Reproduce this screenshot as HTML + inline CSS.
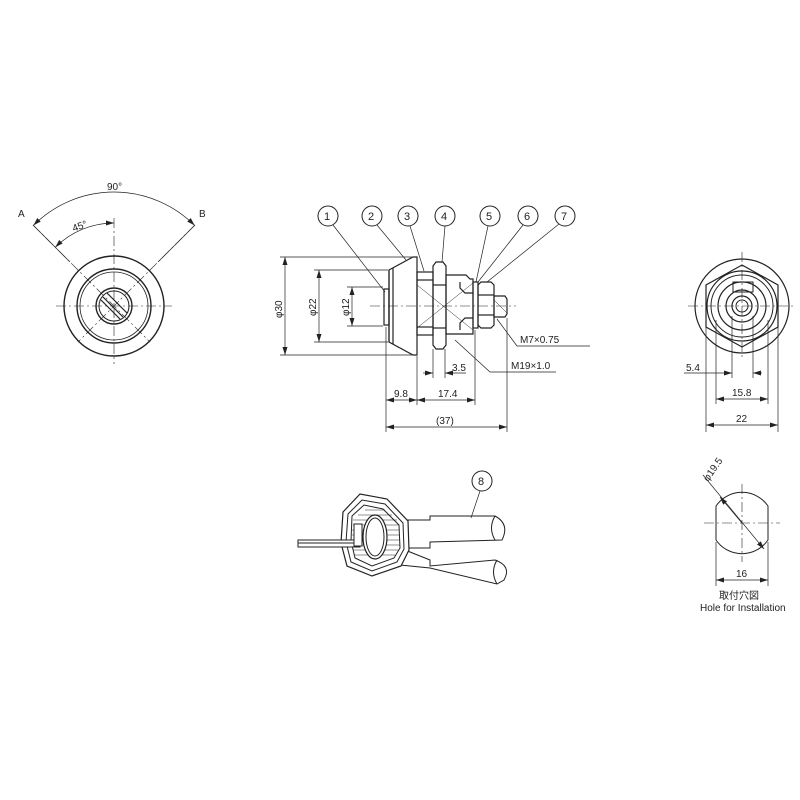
<!DOCTYPE html>
<html><head><meta charset="utf-8"><style>
html,body{margin:0;padding:0;background:#fff;}
svg{display:block;font-family:"Liberation Sans","Noto Sans CJK JP",sans-serif;}
text{font-size:10px;fill:#222;}
</style></head><body>
<svg width="800" height="800" viewBox="0 0 800 800" xmlns="http://www.w3.org/2000/svg">
<defs>
<marker id="ar" markerWidth="8" markerHeight="6" refX="8" refY="3" orient="auto-start-reverse" markerUnits="userSpaceOnUse"><path d="M0,0.5 L8,3 L0,5.5 Z" fill="#222"/></marker>
</defs>
<g fill="none" stroke="#222" stroke-width="1">
<!-- LEFT VIEW -->
<circle cx="114" cy="306" r="50" stroke-width="1.4"/>
<circle cx="114" cy="306" r="37" stroke-width="1.4"/>
<circle cx="114" cy="306" r="34" stroke-width="0.8"/>
<circle cx="114" cy="306" r="18" stroke-width="1.4"/>
<circle cx="114" cy="306" r="15"/>
<line x1="103" y1="297" x2="123" y2="317" stroke-width="1.2"/>
<line x1="107" y1="293" x2="127" y2="313" stroke-width="1.2"/>
<line x1="101" y1="300" x2="120" y2="319" stroke-width="1.2"/>
<g stroke-width="0.6" stroke-dasharray="10,3,2,3">
<line x1="56" y1="306" x2="172" y2="306"/>
<line x1="114" y1="218" x2="114" y2="364"/>
<line x1="33" y1="225" x2="150" y2="342"/>
<line x1="195" y1="225" x2="78" y2="342"/>
</g>
<line x1="33" y1="225" x2="70" y2="262" stroke-width="0.7"/>
<line x1="195" y1="225" x2="158" y2="262" stroke-width="0.7"/>
<path d="M33.4,225.4 A114,114 0 0 1 194.6,225.4" stroke-width="0.7" marker-start="url(#ar)" marker-end="url(#ar)"/>
<path d="M55.3,247.3 A83,83 0 0 1 114,223" stroke-width="0.7" marker-start="url(#ar)" marker-end="url(#ar)"/>

<!-- CENTER VIEW -->
<g stroke-width="1.2">
<path d="M389,270 L413,257 L417,257 L417,355 L413,355 L389,342 Z"/>
<line x1="393" y1="268" x2="393" y2="344"/>
<line x1="389" y1="270" x2="389" y2="342"/>
<rect x="384" y="289" width="5" height="36"/>
<rect x="417" y="272" width="16" height="63"/>
<line x1="417" y1="280" x2="433" y2="280"/>
<line x1="417" y1="327" x2="433" y2="327"/>
<path d="M433,266 L436,262 L443,262 L446,266 L446,345 L443,349 L436,349 L433,345 Z"/>
<line x1="433" y1="285" x2="446" y2="285"/>
<line x1="433" y1="328" x2="446" y2="328"/>
<path d="M446,275 L466,275 L470,279 L473,279 L473,334 L446,334 Z"/>
<path d="M460,282 L460,288 L465,293 L473,293"/>
<path d="M460,330 L460,323 L465,318 L473,318"/>
<rect x="473" y="282" width="5" height="46"/>
<path d="M478,285 L481,282 L491,282 L494,285 L494,325 L491,328 L481,328 L478,325 Z"/>
<line x1="478" y1="295" x2="494" y2="295"/>
<line x1="478" y1="315" x2="494" y2="315"/>
<path d="M494,296 L505,296 L507,299 L507,314 L505,317 L494,317 Z"/>
</g>
<line x1="417" y1="285" x2="473" y2="330" stroke-width="0.5"/>
<line x1="417" y1="328" x2="473" y2="283" stroke-width="0.5"/>
<line x1="494" y1="300" x2="507" y2="313" stroke-width="0.5"/>
<line x1="370" y1="306" x2="516" y2="306" stroke-width="0.6" stroke-dasharray="10,3,2,3"/>
<!-- dims vertical -->
<g stroke-width="0.7">
<line x1="280" y1="257" x2="412" y2="257"/><line x1="280" y1="355" x2="412" y2="355"/>
<line x1="314" y1="270" x2="388" y2="270"/><line x1="314" y1="342" x2="388" y2="342"/>
<line x1="347" y1="287" x2="383" y2="287"/><line x1="347" y1="326" x2="383" y2="326"/>
<line x1="285" y1="257" x2="285" y2="355" marker-start="url(#ar)" marker-end="url(#ar)"/>
<line x1="319" y1="270" x2="319" y2="342" marker-start="url(#ar)" marker-end="url(#ar)"/>
<line x1="352" y1="287" x2="352" y2="326" marker-start="url(#ar)" marker-end="url(#ar)"/>
<line x1="386" y1="327" x2="386" y2="432"/>
<line x1="417" y1="356" x2="417" y2="405"/>
<line x1="475" y1="330" x2="475" y2="405"/>
<line x1="507" y1="318" x2="507" y2="432"/>
<line x1="433" y1="349" x2="433" y2="378"/>
<line x1="445" y1="349" x2="445" y2="378"/>
<line x1="386" y1="400" x2="417" y2="400" marker-start="url(#ar)" marker-end="url(#ar)"/>
<line x1="417" y1="400" x2="475" y2="400" marker-start="url(#ar)" marker-end="url(#ar)"/>
<line x1="386" y1="427" x2="507" y2="427" marker-start="url(#ar)" marker-end="url(#ar)"/>
<line x1="423" y1="373" x2="433" y2="373" marker-end="url(#ar)"/>
<line x1="466" y1="373" x2="445" y2="373" marker-end="url(#ar)"/>
<polyline points="497,319 517,346 590,346"/>
<polyline points="455,340 490,372 556,372"/>
</g>
<!-- balloons -->
<g stroke-width="1">
<circle cx="328" cy="216" r="10"/><circle cx="372" cy="216" r="10"/><circle cx="408" cy="216" r="10"/>
<circle cx="445" cy="216" r="10"/><circle cx="490" cy="216" r="10"/><circle cx="528" cy="216" r="10"/><circle cx="565" cy="216" r="10"/>
</g>
<g stroke-width="0.7">
<line x1="333" y1="225" x2="385" y2="292"/>
<line x1="377" y1="225" x2="406" y2="260"/>
<line x1="410" y1="226" x2="424" y2="271"/>
<line x1="445" y1="226" x2="442" y2="262"/>
<line x1="488" y1="226" x2="476" y2="282"/>
<line x1="523" y1="225" x2="478" y2="282"/>
<line x1="559" y1="224" x2="487" y2="282"/>
</g>

<!-- RIGHT VIEW -->
<circle cx="742" cy="306" r="47" stroke-width="1.2"/>
<polygon points="742,265 778,285 778,327 742,347 706,327 706,285" stroke-width="1.2"/>
<circle cx="742" cy="306" r="35" stroke-width="1.2"/>
<circle cx="742" cy="306" r="31"/>
<circle cx="742" cy="306" r="24" stroke-width="1.2"/>
<circle cx="742" cy="306" r="16" stroke-width="1.2"/>
<circle cx="742" cy="306" r="10" stroke-width="1.2"/>
<circle cx="742" cy="306" r="6"/>
<rect x="733" y="282" width="20" height="10"/>
<g stroke-width="0.6" stroke-dasharray="10,3,2,3">
<line x1="688" y1="306" x2="796" y2="306"/>
<line x1="742" y1="252" x2="742" y2="360"/>
</g>
<g stroke-width="0.7">
<line x1="706" y1="310" x2="706" y2="432"/><line x1="778" y1="310" x2="778" y2="432"/>
<line x1="716" y1="320" x2="716" y2="404"/><line x1="768" y1="320" x2="768" y2="404"/>
<line x1="732" y1="316" x2="732" y2="378"/><line x1="753" y1="316" x2="753" y2="378"/>
<line x1="706" y1="425" x2="778" y2="425" marker-start="url(#ar)" marker-end="url(#ar)"/>
<line x1="716" y1="399" x2="768" y2="399" marker-start="url(#ar)" marker-end="url(#ar)"/>
<line x1="684" y1="373" x2="732" y2="373" marker-end="url(#ar)"/>
<line x1="762" y1="373" x2="753" y2="373" marker-end="url(#ar)"/>
</g>

<!-- HOLE -->
<path d="M716,506 A31.5,31.5 0 0 1 768,506 L768,540 A31.5,31.5 0 0 1 716,540 Z" stroke-width="1"/>
<g stroke-width="0.6" stroke-dasharray="10,3,2,3">
<line x1="704" y1="523" x2="780" y2="523"/>
<line x1="742" y1="484" x2="742" y2="562"/>
</g>
<g stroke-width="0.7">
<line x1="703" y1="475" x2="764" y2="549" marker-end="url(#ar)"/>
<line x1="742" y1="523" x2="720" y2="497" marker-end="url(#ar)"/>
<line x1="716" y1="542" x2="716" y2="586"/><line x1="768" y1="542" x2="768" y2="586"/>
<line x1="716" y1="580" x2="768" y2="580" marker-start="url(#ar)" marker-end="url(#ar)"/>
</g>

<!-- KEY -->
<g stroke-width="1">
<path d="M405,520 L430,520 L430,516 L495,516 Q510,524 502,540 L430,542 L430,548 L405,548"/>
<path d="M495,516 Q488,528 495,540"/>
<path d="M405,550 L430,560 L430,566 L495,560 Q512,566 504,580 L497,584 L430,568 L400,565"/>
<path d="M497,560 Q490,572 497,584"/>
<path d="M343,512 L360,494 L387,499 L408,521 L409,550 L401,566 L372,576 L347,566 L341,543 Z" fill="#fff" stroke-width="1.2"/>
<path d="M348,514 L362,500 L385,504 L403,523 L404,549 L397,562 L372,571 L351,562 L346,542 Z"/>
<path d="M352,516 L364,505 L383,509 L399,525 L400,548 L394,558 L372,566 L355,558 L351,541 Z"/>
<g stroke-width="0.5">
<line x1="353" y1="520" x2="397" y2="520"/><line x1="353" y1="525" x2="399" y2="525"/><line x1="352" y1="530" x2="399" y2="530"/>
<line x1="352" y1="535" x2="399" y2="535"/><line x1="352" y1="540" x2="400" y2="540"/><line x1="352" y1="545" x2="400" y2="545"/>
<line x1="353" y1="550" x2="398" y2="550"/><line x1="354" y1="555" x2="395" y2="555"/><line x1="365" y1="510" x2="385" y2="510"/><line x1="358" y1="515" x2="392" y2="515"/>
</g>
<ellipse cx="375" cy="537" rx="12" ry="22" fill="#fff" stroke-width="1.2"/>
<ellipse cx="375" cy="537" rx="9" ry="19"/>
<rect x="298" y="540" width="62" height="7" fill="#fff"/>
<line x1="298" y1="543" x2="360" y2="543"/>
<rect x="354" y="524" width="8" height="22" fill="#fff"/>
<circle cx="482" cy="481" r="10"/>
<line x1="480" y1="491" x2="471" y2="518" stroke-width="0.7"/>
</g>
</g>
<!-- TEXT -->
<text x="107" y="190">90°</text>
<text x="72" y="230" transform="rotate(-20 78 226)">45°</text>
<text x="18" y="217">A</text>
<text x="199" y="217">B</text>
<g font-size="11">
<text x="324" y="220" style="font-size:11px">1</text><text x="368" y="220" style="font-size:11px">2</text><text x="404" y="220" style="font-size:11px">3</text>
<text x="441" y="220" style="font-size:11px">4</text><text x="486" y="220" style="font-size:11px">5</text><text x="524" y="220" style="font-size:11px">6</text><text x="561" y="220" style="font-size:11px">7</text>
<text x="478" y="485" style="font-size:11px">8</text>
</g>
<text transform="translate(282 318) rotate(-90)">φ30</text>
<text transform="translate(316 316) rotate(-90)">φ22</text>
<text transform="translate(349 316) rotate(-90)">φ12</text>
<text x="394" y="397">9.8</text>
<text x="438" y="397">17.4</text>
<text x="436" y="424">(37)</text>
<text x="452" y="371">3.5</text>
<text x="520" y="343">M7×0.75</text>
<text x="511" y="369">M19×1.0</text>
<text x="686" y="371">5.4</text>
<text x="732" y="396">15.8</text>
<text x="736" y="422">22</text>
<text transform="translate(708 482) rotate(-55)">φ19.5</text>
<text x="736" y="577">16</text>
<text x="719" y="599">取付穴図</text>
<text x="700" y="611">Hole for Installation</text>
</svg>
</body></html>
